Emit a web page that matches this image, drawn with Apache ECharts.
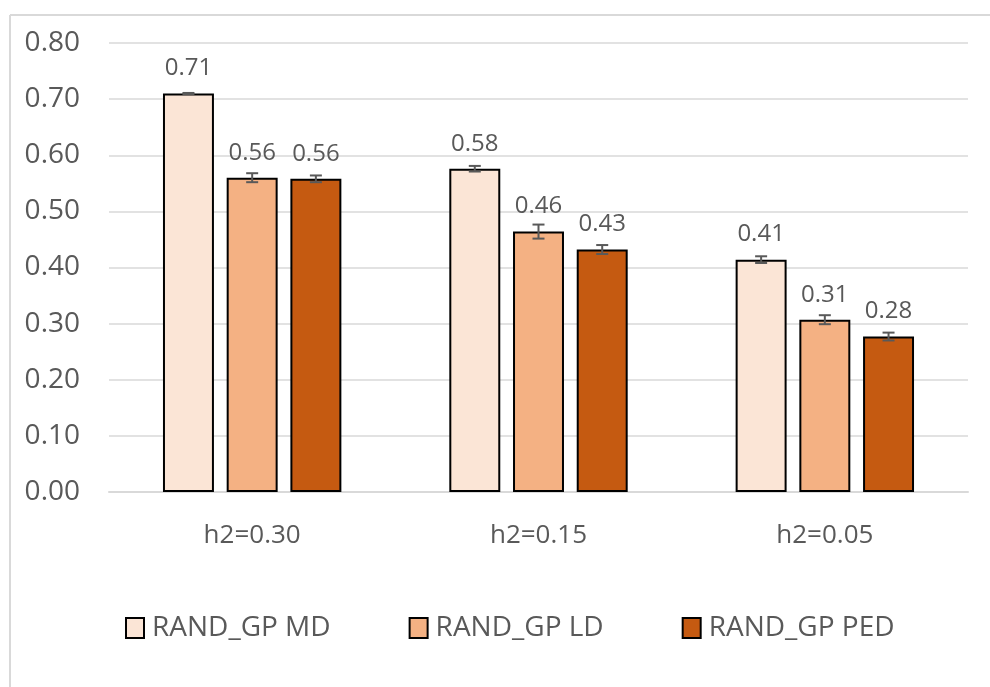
<!DOCTYPE html>
<html>
<head>
<meta charset="utf-8">
<script src="https://cdn.jsdelivr.net/npm/echarts@6/dist/echarts.min.js"></script>
<style>
html,body{margin:0;padding:0;background:#fff;}
#c{width:990px;height:687px;}
</style>
</head>
<body>
<div id="c"></div>
<script>
const categories = ['h2=0.30', 'h2=0.15', 'h2=0.05'];
const seriesNames = ['RAND_GP MD', 'RAND_GP LD', 'RAND_GP PED'];
const mdValues = [0.710, 0.576, 0.414];
const ldValues = [0.560, 0.464, 0.307];
const pedValues = [0.558, 0.432, 0.277];
const mdErr = [0.001, 0.005, 0.006];
const ldErr = [0.008, 0.0125, 0.008];
const pedErr = [0.006, 0.008, 0.007];
const yTicks = [0, 0.1, 0.2, 0.3, 0.4, 0.5, 0.6, 0.7, 0.8];

const colors = ['#FBE5D6', '#F4B183', '#C55A11'];
const BAR_W = 0.178, BAR_GAP = 0.25;
const FONT = 'Open Sans';
const TXT = '#595959';

const values = [mdValues, ldValues, pedValues];
const errs = [mdErr, ldErr, pedErr];

function errSeries(idx) {
  const data = categories.map((c, i) => [i, values[idx][i], errs[idx][i]]);
  return {
    type: 'custom',
    name: seriesNames[idx] + ' err',
    z: 5,
    silent: true,
    data: data,
    renderItem: function (params, api) {
      const ci = api.value(0);
      const v = api.value(1), e = api.value(2);
      const band = api.size([1, 0])[0];
      const w = band * BAR_W, g = w * BAR_GAP;
      const off = (idx - 1) * (w + g);
      const top = api.coord([ci, v + e]);
      const bot = api.coord([ci, v - e]);
      const x = top[0] + off;
      const cap = 6;
      const st = { stroke: '#595959', lineWidth: 2 };
      return {
        type: 'group',
        children: [
          { type: 'line', shape: { x1: x, y1: top[1], x2: x, y2: bot[1] }, style: st },
          { type: 'line', shape: { x1: x - cap, y1: top[1], x2: x + cap, y2: top[1] }, style: st },
          { type: 'line', shape: { x1: x - cap, y1: bot[1], x2: x + cap, y2: bot[1] }, style: st }
        ]
      };
    }
  };
}

function barSeries(idx) {
  return {
    type: 'bar',
    name: seriesNames[idx],
    data: values[idx],
    barWidth: (BAR_W * 100) + '%',
    barGap: (BAR_GAP * 100) + '%',
    itemStyle: { color: colors[idx], borderColor: '#000', borderWidth: 2 },
    label: {
      show: true,
      position: 'top',
      distance: 13,
      fontFamily: FONT,
      fontSize: 24,
      color: TXT,
      formatter: p => p.value.toFixed(2)
    }
  };
}

const chart = echarts.init(document.getElementById('c'));
chart.setOption({
  animation: false,
  backgroundColor: '#fff',
  graphic: [
    { type: 'line', shape: { x1: 10, y1: 15, x2: 990, y2: 15 }, style: { stroke: '#D9D9D9', lineWidth: 2 } },
    { type: 'line', shape: { x1: 10, y1: 15, x2: 10, y2: 687 }, style: { stroke: '#D9D9D9', lineWidth: 2 } }
  ],
  grid: { left: 109, right: 22, top: 43, bottom: 195, containLabel: false },
  legend: {
    data: seriesNames,
    bottom: 40,
    left: 120,
    itemWidth: 18,
    itemHeight: 20,
    itemGap: 78,
    icon: 'rect',
    itemStyle: { borderColor: '#000', borderWidth: 2 },
    textStyle: { fontFamily: FONT, fontSize: 28, color: TXT, padding: [0, 0, 0, 3] }
  },
  xAxis: {
    type: 'category',
    data: categories,
    axisLine: { lineStyle: { color: '#D9D9D9', width: 2 } },
    axisTick: { show: false },
    axisLabel: { fontFamily: FONT, fontSize: 26, color: TXT, margin: 31 }
  },
  yAxis: {
    type: 'value',
    min: yTicks[0],
    max: yTicks[yTicks.length - 1],
    interval: 0.1,
    axisLine: { show: false },
    axisTick: { show: false },
    splitLine: { lineStyle: { color: '#D9D9D9', width: 1.5 } },
    axisLabel: { fontFamily: FONT, fontSize: 28, color: TXT, margin: 29, formatter: v => v.toFixed(2) }
  },
  series: [barSeries(0), barSeries(1), barSeries(2), errSeries(0), errSeries(1), errSeries(2)]
});
</script>
</body>
</html>
